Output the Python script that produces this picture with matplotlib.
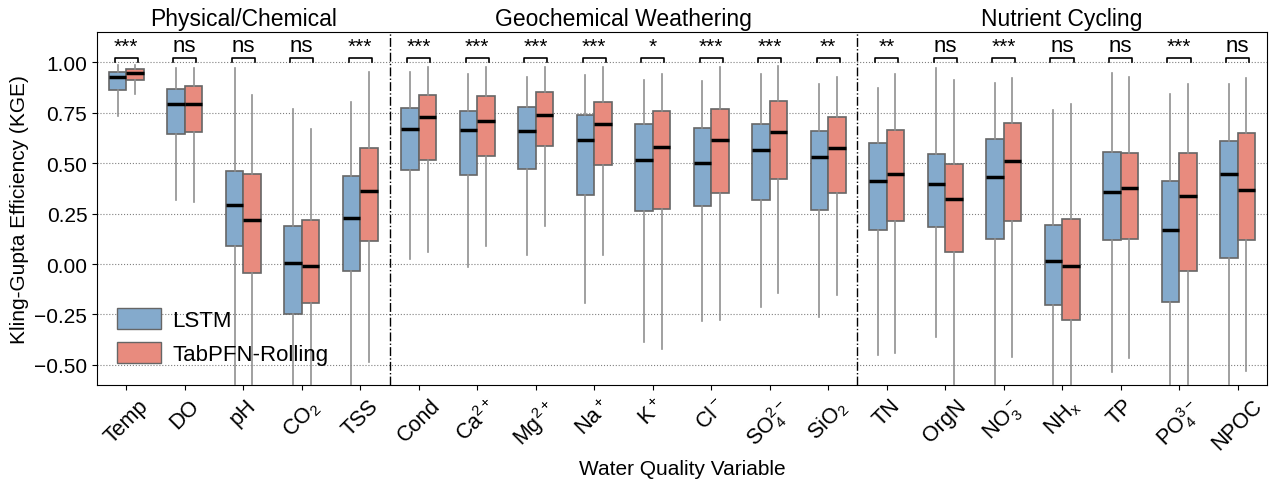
import matplotlib
matplotlib.use("Agg")
import matplotlib.pyplot as plt
from matplotlib.patches import Patch

plt.rcParams['font.family'] = ['Liberation Sans', 'DejaVu Sans']
plt.rcParams['mathtext.default'] = 'regular'

variables = ['Temp', 'DO', 'pH', 'CO$_2$', 'TSS',
             'Cond', 'Ca$^{2+}$', 'Mg$^{2+}$', 'Na$^+$', 'K$^+$', 'Cl$^-$', 'SO$_4^{2-}$', 'SiO$_2$',
             'TN', 'OrgN', 'NO$_3^-$', 'NH$_x$', 'TP', 'PO$_4^{3-}$', 'NPOC']
groups = ['Physical/Chemical', 'Geochemical Weathering', 'Nutrient Cycling']
group_sizes = [5, 8, 7]
significance = ['***', 'ns', 'ns', 'ns', '***',
                '***', '***', '***', '***', '*', '***', '***', '**',
                '**', 'ns', '***', 'ns', 'ns', '***', 'ns']

# LSTM box statistics
lstm_med = [0.926, 0.794, 0.291, 0.007, 0.227,
            0.669, 0.665, 0.660, 0.614, 0.517, 0.500, 0.566, 0.530,
            0.413, 0.395, 0.431, 0.015, 0.357, 0.170, 0.444]
lstm_q1 = [0.863, 0.646, 0.091, -0.248, -0.033,
           0.466, 0.441, 0.471, 0.344, 0.262, 0.288, 0.316, 0.266,
           0.171, 0.183, 0.122, -0.205, 0.117, -0.187, 0.031]
lstm_q3 = [0.954, 0.867, 0.459, 0.186, 0.438,
           0.775, 0.757, 0.778, 0.737, 0.696, 0.674, 0.693, 0.660,
           0.602, 0.546, 0.619, 0.191, 0.554, 0.411, 0.612]
lstm_lo = [0.732, 0.316, -1.0, -1.0, -1.0,
           0.025, -0.013, 0.043, -0.194, -0.388, -0.281, -0.215, -0.263,
           -0.449, -0.363, -1.0, -1.0, -0.534, -1.0, -1.0]
lstm_hi = [0.985, 0.969, 0.969, 0.768, 0.804,
           0.952, 0.941, 0.929, 0.939, 0.911, 0.905, 0.942, 0.893,
           0.870, 0.969, 0.895, 0.763, 0.949, 0.844, 0.890]

# TabPFN-Rolling box statistics
tab_med = [0.947, 0.794, 0.217, -0.011, 0.362,
           0.729, 0.711, 0.740, 0.696, 0.582, 0.617, 0.655, 0.573,
           0.444, 0.323, 0.513, -0.011, 0.377, 0.337, 0.367]
tab_q1 = [0.910, 0.653, -0.043, -0.192, 0.114,
          0.517, 0.535, 0.587, 0.490, 0.275, 0.350, 0.421, 0.354,
          0.212, 0.058, 0.214, -0.279, 0.125, -0.036, 0.118]
tab_q3 = [0.965, 0.883, 0.444, 0.217, 0.576,
          0.836, 0.834, 0.854, 0.801, 0.757, 0.768, 0.809, 0.730,
          0.665, 0.497, 0.699, 0.224, 0.551, 0.551, 0.650]
tab_lo = [0.845, 0.306, -1.0, -1.0, -0.487,
          0.059, 0.091, 0.189, 0.046, -0.419, -0.276, -0.143, -0.154,
          -0.442, -1.0, -0.462, -1.0, -0.465, -1.0, -0.531]
tab_hi = [0.985, 0.969, 0.837, 0.669, 0.952,
          0.975, 0.974, 0.977, 0.974, 0.944, 0.977, 0.980, 0.928,
          0.944, 0.910, 0.924, 0.794, 0.929, 0.891, 0.920]

lstm_color = '#84aacc'
tab_color = '#e88b7e'


def make_stats(med, q1, q3, lo, hi):
    return [dict(med=m, q1=a, q3=b, whislo=l, whishi=h, fliers=[])
            for m, a, b, l, h in zip(med, q1, q3, lo, hi)]


fig = plt.figure(figsize=(12.72, 4.85), dpi=100)
ax = fig.add_axes([0.0763, 0.204, 0.9197, 0.728])

n = len(variables)
xs = list(range(n))
offset = 0.15
width = 0.3

for stats, shift, color in [(make_stats(lstm_med, lstm_q1, lstm_q3, lstm_lo, lstm_hi), -offset, lstm_color),
                            (make_stats(tab_med, tab_q1, tab_q3, tab_lo, tab_hi), offset, tab_color)]:
    ax.bxp(stats, positions=[x + shift for x in xs], widths=width, patch_artist=True,
           showfliers=False, showcaps=False,
           boxprops=dict(facecolor=color, edgecolor='#666666', linewidth=1.2),
           whiskerprops=dict(color='#909090', linewidth=1.2),
           medianprops=dict(color='black', linewidth=2.5),
           manage_ticks=False, zorder=3)

# significance brackets
for x, s in zip(xs, significance):
    ax.plot([x - 0.2, x - 0.2, x + 0.2, x + 0.2], [1.0, 1.02, 1.02, 1.0],
            color='black', lw=1.2, zorder=4)
    ax.text(x, 1.03, s, ha='center', va='bottom', fontsize=16 if s == 'ns' else 15)

# group separators and titles
start = 0
for name, size in zip(groups, group_sizes):
    if start > 0:
        ax.axvline(start - 0.5, color='black', linestyle='-.', linewidth=1, zorder=2)
    ax.text(start - 0.5 + size / 2, 1.16, name, ha='center', va='bottom', fontsize=16.5)
    start += size

ax.set_xlim(-0.5, n - 0.5)
ax.set_ylim(-0.6, 1.15)
ax.set_yticks([-0.5, -0.25, 0.0, 0.25, 0.5, 0.75, 1.0])
ax.yaxis.grid(True, linestyle=':', color='gray', linewidth=0.8, zorder=0)
ax.set_axisbelow(True)
ax.set_xticks(xs)
ax.set_xticklabels(variables, rotation=45, ha='center', fontsize=15.5)
ax.tick_params(axis='y', labelsize=15)
ax.set_ylabel('Kling-Gupta Efficiency (KGE)', fontsize=15)
ax.set_xlabel('Water Quality Variable', fontsize=15)

handles = [Patch(facecolor=lstm_color, edgecolor='#666666', label='LSTM'),
           Patch(facecolor=tab_color, edgecolor='#666666', label='TabPFN-Rolling')]
ax.legend(handles=handles, loc='lower left', fontsize=16, frameon=False,
          handlelength=2.0, handleheight=1.1, handletextpad=0.5)

plt.savefig('out.png', dpi=100)
